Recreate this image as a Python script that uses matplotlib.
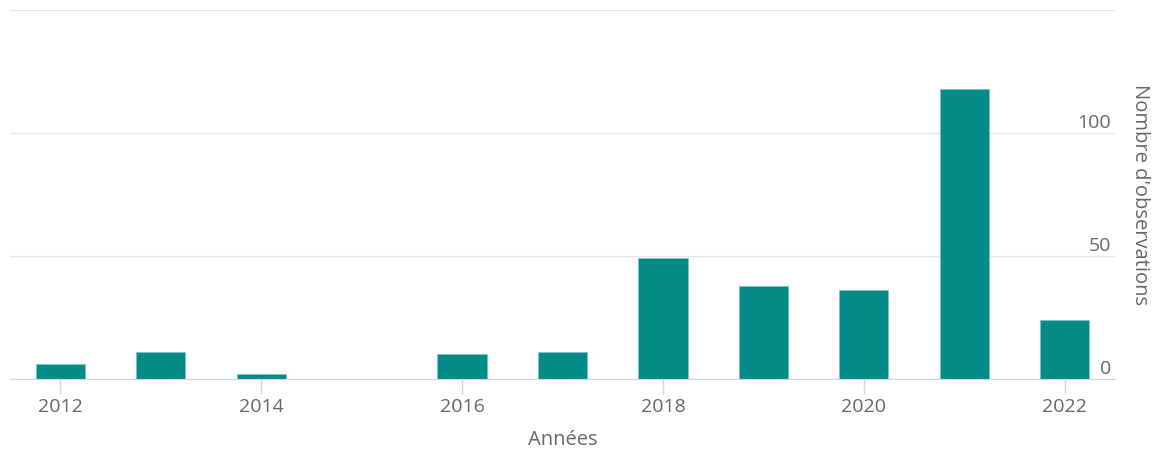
import matplotlib.pyplot as plt

# Observations per year (2015 has none)
years = [2012, 2013, 2014, 2016, 2017, 2018, 2019, 2020, 2021, 2022]
counts = [6, 11, 2, 10, 11, 49, 38, 36, 118, 24]

bar_color = '#028b87'
text_color = '#666666'

plt.rcParams['font.family'] = ['Open Sans', 'DejaVu Sans']

fig = plt.figure(figsize=(11.55, 4.5), dpi=100)
ax = fig.add_axes([10 / 1155, 1 - 379 / 450, 1105 / 1155, 369 / 450])

ax.bar(years, counts, width=0.49, color=bar_color, edgecolor='#7fc4c2',
       linewidth=0.5, zorder=3)

ax.set_xlim(2011.5, 2022.5)
ax.set_ylim(0, 150)

# x axis
ax.set_xticks([2012, 2014, 2016, 2018, 2020, 2022])
ax.tick_params(axis='x', length=11, width=1, color='#ccd6eb',
               labelsize=14, labelcolor=text_color, pad=2.5)
ax.set_xlabel('Années', fontsize=14.5, color=text_color, labelpad=10)

# y axis: gridlines only, labels drawn inside the plot at the right
ax.set_yticks([0, 50, 100, 150])
ax.tick_params(axis='y', length=0, labelleft=False)
ax.grid(axis='y', color='#e6e6e6', linewidth=1, zorder=0)
for v in [0, 50, 100]:
    ax.text(2022.46, v + 0.6, str(v), ha='right', va='bottom',
            fontsize=14, color=text_color)

for side in ['top', 'left', 'right']:
    ax.spines[side].set_visible(False)
ax.spines['bottom'].set_color('#ccd6eb')
ax.spines['bottom'].set_zorder(4)

fig.text(1140 / 1155, 1 - 195 / 450, "Nombre d'observations", rotation=-90,
         ha='center', va='center', fontsize=14.5, color=text_color)

fig.savefig('out.png', dpi=100)
